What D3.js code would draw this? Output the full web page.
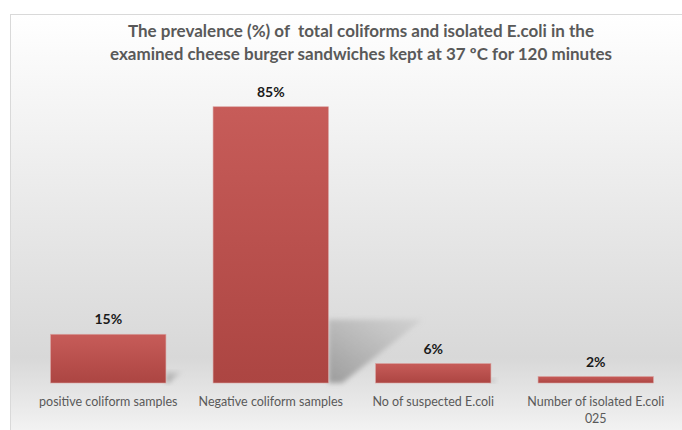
<!DOCTYPE html>
<html lang="en">
<head>
    <meta charset="UTF-8">
    <title>Prevalence of coliforms</title>
    <script src="https://d3js.org/d3.v7.min.js"></script>
    <style>
        body { margin: 0; background: #fff; }
        text { font-family: Lato, "Open Sans", sans-serif; white-space: pre; }
    </style>
</head>
<body>
    <div id="chart"></div>
    <script>
        const categories = ["positive coliform samples", "Negative coliform samples", "No of suspected E.coli", "Number of isolated E.coli 025"];
        const values = [15, 85, 6, 2];
        const labels = ["15%", "85%", "6%", "2%"];
        const titleLines = ["The prevalence (%) of  total coliforms and isolated E.coli in the",
                            "examined cheese burger sandwiches kept at 37 \u00baC for 120 minutes"];

        const width = 682;
        const height = 430;

        const svg = d3.select("#chart").append("svg")
            .attr("width", width)
            .attr("height", height);

        const defs = svg.append("defs");

        // chart area background
        const bg = defs.append("linearGradient").attr("id", "bg")
            .attr("x1", 0).attr("y1", 0).attr("x2", 0).attr("y2", 1);
        bg.append("stop").attr("offset", "0%").attr("stop-color", "#ffffff");
        bg.append("stop").attr("offset", "22%").attr("stop-color", "#f4f4f4");
        bg.append("stop").attr("offset", "78%").attr("stop-color", "#d8d8d8");
        bg.append("stop").attr("offset", "100%").attr("stop-color", "#fbfbfb");

        const barGrad = defs.append("linearGradient").attr("id", "barGrad")
            .attr("x1", 0).attr("y1", 0).attr("x2", 0).attr("y2", 1);
        barGrad.append("stop").attr("offset", "0%").attr("stop-color", "#c75c59");
        barGrad.append("stop").attr("offset", "100%").attr("stop-color", "#ac4542");

        const shadowGrad = defs.append("linearGradient").attr("id", "shadowGrad")
            .attr("x1", 0).attr("y1", 1).attr("x2", 1).attr("y2", 0);
        shadowGrad.append("stop").attr("offset", "0%").attr("stop-color", "#8f8f8f").attr("stop-opacity", 0.85);
        shadowGrad.append("stop").attr("offset", "100%").attr("stop-color", "#b0b0b0").attr("stop-opacity", 0.25);

        defs.append("filter").attr("id", "blur")
            .attr("x", "-20%").attr("y", "-20%").attr("width", "140%").attr("height", "140%")
            .append("feGaussianBlur").attr("stdDeviation", 2.5);

        svg.append("rect")
            .attr("x", 10.5).attr("y", 14.5)
            .attr("width", 700).attr("height", 440)
            .attr("fill", "url(#bg)")
            .attr("stroke", "#d9d9d9");

        // title
        svg.append("g").selectAll("text")
            .data(titleLines)
            .join("text")
            .attr("x", 361)
            .attr("y", (d, i) => 37 + i * 23)
            .attr("text-anchor", "middle")
            .attr("font-size", 17)
            .attr("font-weight", "bold")
            .attr("fill", "#595959")
            .text(d => d);

        const x = d3.scaleBand()
            .domain(categories)
            .range([27, 677])
            .paddingInner(0.29)
            .paddingOuter(0.145);

        const y = d3.scaleLinear()
            .domain([0, 100])
            .range([383, 58]);

        const data = categories.map((c, i) => ({ cat: c, value: values[i], label: labels[i] }));

        // perspective shadows
        svg.append("g").selectAll("polygon")
            .data(data)
            .join("polygon")
            .attr("points", d => {
                const x1 = x(d.cat) + x.bandwidth();
                const h = y(0) - y(d.value);
                const top = y(0) - h * 0.23;
                return [[x1, y(0)], [x1, top], [x1 + h * 0.34, top], [x1 + h * 0.05, y(0)]].join(" ");
            })
            .attr("fill", "url(#shadowGrad)")
            .attr("filter", "url(#blur)");

        svg.append("g").selectAll("rect")
            .data(data)
            .join("rect")
            .attr("x", d => x(d.cat))
            .attr("y", d => y(d.value))
            .attr("width", x.bandwidth())
            .attr("height", d => y(0) - y(d.value))
            .attr("fill", "url(#barGrad)")
            .attr("stroke", "#d9a4a2")
            .attr("stroke-width", 0.6);

        svg.append("g").selectAll("text")
            .data(data)
            .join("text")
            .attr("x", d => x(d.cat) + x.bandwidth() / 2)
            .attr("y", d => y(d.value) - 10)
            .attr("text-anchor", "middle")
            .attr("font-size", 14)
            .attr("font-weight", "bold")
            .attr("fill", "#1a1a1a")
            .text(d => d.label);

        // category labels, wrapping the last one like the original
        const xAxis = svg.append("g").attr("transform", `translate(0,${y(0)})`);
        xAxis.selectAll("text")
            .data(data)
            .join("text")
            .attr("x", d => x(d.cat) + x.bandwidth() / 2)
            .attr("y", 23)
            .attr("text-anchor", "middle")
            .attr("font-size", 12.5)
            .attr("fill", "#595959")
            .each(function (d) {
                const t = d3.select(this);
                const parts = d.cat === "Number of isolated E.coli 025"
                    ? ["Number of isolated E.coli", "025"] : [d.cat];
                parts.forEach((p, i) => {
                    t.append("tspan")
                        .attr("x", x(d.cat) + x.bandwidth() / 2)
                        .attr("dy", i === 0 ? 0 : 17)
                        .text(p);
                });
            });
    </script>
</body>
</html>
